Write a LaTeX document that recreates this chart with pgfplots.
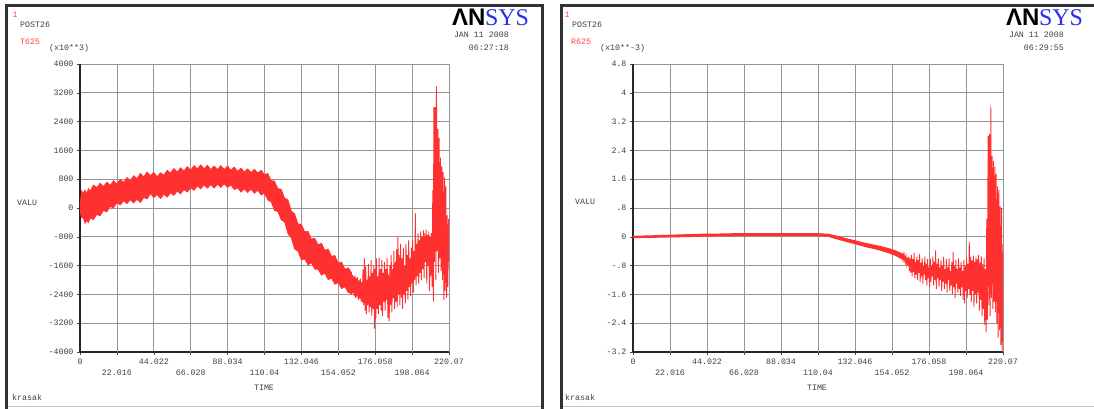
\documentclass[border=0pt]{standalone}
\usepackage{fontspec}
\setmainfont{Liberation Sans}
\setmonofont{Liberation Mono}
\newfontfamily\logoserif{Liberation Serif}
\usepackage{pgfplots}
\pgfplotsset{compat=1.18}

\definecolor{plotred}{RGB}{255,48,48}
\definecolor{txtred}{RGB}{255,70,70}
\definecolor{logoblue}{RGB}{45,45,235}
\definecolor{framegray}{RGB}{50,50,50}
\definecolor{gridgray}{RGB}{150,150,150}
\definecolor{labelgray}{RGB}{65,65,65}

\newcommand\af{\ttfamily\fontsize{8.3}{9}\selectfont}

\pgfplotsset{
  ansys/.style={
    scale only axis, height=288pt, anchor=south west,
    axis x line*=bottom, axis y line*=left,
    axis line style={line width=1.6pt, color=black!85},
    grid=major, major grid style={gridgray, line width=0.8pt},
    tick align=outside, major tick length=3pt,
    tick style={black!70, line width=0.6pt},
    xmin=0, xmax=220.07,
    xtick={0,44.022,88.034,132.046,176.058,220.07},
    xticklabels={0,44.022,88.034,132.046,176.058,220.07},
    extra x ticks={22.016,66.028,110.04,154.052,198.064},
    extra x tick labels={22.016,66.028,110.04,154.052,198.064},
    extra x tick style={grid=major, xticklabel style={yshift=-11pt}},
    ticklabel style={font=\af, text=labelgray},
    clip=true,
  }
}

\begin{document}
\begin{tikzpicture}[x=1pt,y=1pt]
\useasboundingbox (0,0) rectangle (1094,408);
\clip (0,0) rectangle (1094,408);
\fill[white] (0,0) rectangle (1094,408);

% window frames
\draw[framegray, line width=3pt] (6.5,-6) rectangle (542.5,402);
\draw[framegray, line width=3pt] (561.5,-6) rectangle (1102,402);
\draw[gray!45, line width=1pt] (8,1.5) -- (541,1.5);
\draw[gray!45, line width=1pt] (563,1.5) -- (1094,1.5);

% ---------------- T625 ----------------
\begin{axis}[ansys, at={(80pt,56pt)}, width=369pt,
  ymin=-4000, ymax=4000,
  ytick={-4000,-3200,-2400,-1600,-800,0,800,1600,2400,3200,4000},
  yticklabels={-4000,-3200,-2400,-1600,-800,0,800,1600,2400,3200,4000}]
% dense oscillation band: upper edge forward, lower edge back
\addplot[draw=plotred, fill=plotred, line width=0.6pt] coordinates {
(0,100) (1,480) (2,410) (3,500) (4,400) (5,540) (6,470) (8,640) (10,570)
(12,690) (14,600) (16,720) (18,630) (20,760) (22,670) (24,800) (26,710)
(28,850) (30,760) (32,900) (34,820) (36,960) (38,870) (40,1000) (42,900)
(44,990) (46,870) (48,980) (50,910) (52,1050) (54,970) (56,1100) (58,1000)
(60,1120) (62,1030) (64,1150) (66,1050) (68,1180) (70,1090) (72,1200)
(74,1090) (76,1190) (78,1070) (80,1170) (82,1070) (84,1180) (86,1070)
(88,1170) (90,1050) (92,1140) (94,1020) (96,1110) (98,1000) (100,1090)
(102,990) (104,1080) (106,970) (108,1050) (110,930) (112,960) (114,760)
(116,750) (118,540) (120,520) (122,280) (124,230) (126,-80) (128,-160)
(130,-440) (132,-450) (134,-660) (136,-650) (138,-860) (140,-840)
(142,-1020) (144,-980) (146,-1170) (148,-1140) (150,-1340) (152,-1320)
(154,-1530) (156,-1500) (158,-1700) (160,-1660) (162,-1800)
(162,-2380) (160,-2350) (158,-2190) (156,-2240) (154,-2070) (152,-2120)
(150,-1950) (148,-1990) (146,-1810) (144,-1870) (142,-1700) (140,-1700)
(138,-1520) (136,-1580) (134,-1420) (132,-1440) (130,-1200) (128,-1140)
(126,-830) (124,-710) (122,-390) (120,-330) (118,-100) (116,-70) (114,170)
(112,220) (110,410) (108,360) (106,490) (104,410) (102,520) (100,430)
(98,530) (96,440) (94,560) (92,510) (90,640) (88,570) (86,670) (84,570)
(82,660) (80,550) (78,650) (76,550) (74,640) (72,530) (70,610) (68,490)
(66,560) (64,440) (62,510) (60,390) (58,470) (56,350) (54,420) (52,300)
(50,380) (48,260) (46,370) (44,290) (42,400) (40,250) (38,290) (36,150)
(34,240) (32,140) (30,230) (28,120) (26,200) (24,80) (22,150) (20,0)
(18,40) (16,-110) (14,-70) (12,-220) (10,-180) (8,-320) (6,-280) (5,-410)
(4,-340) (3,-430) (2,-280) (1,-270) (0,-100)
};
% irregular response near the end of the run
\addplot[draw=plotred, line width=0.9pt] coordinates {
(160.0,-1750) (160.4,-2300) (160.8,-1820) (161.2,-2350) (161.6,-1780)
(162.0,-2400) (162.4,-1850) (162.8,-2380) (163.2,-1900) (163.6,-2450)
(164.0,-1870) (164.4,-2500) (164.8,-1950) (165.2,-2480) (165.6,-1920)
(166.0,-2550) (166.4,-2000) (166.8,-2520) (167.2,-1960) (167.6,-2600)
(168.0,-2050) (168.4,-2620) (168.8,-1700) (169.2,-2700) (169.6,-1400)
(170.0,-2850) (170.4,-1600) (170.8,-2950) (171.2,-2000) (171.6,-2700)
(172.0,-1550) (172.4,-2900) (172.8,-1900) (173.2,-2750) (173.6,-1450)
(174.0,-3000) (174.4,-1800) (174.8,-2800) (175.2,-1600) (175.6,-3350)
(176.0,-1700) (176.4,-3100) (176.8,-1400) (177.2,-2800) (177.6,-1900)
(178.0,-2950) (178.4,-1380) (178.8,-2700) (179.2,-1700) (179.6,-2850)
(180.0,-1450) (180.4,-3000) (180.8,-1800) (181.2,-2600) (181.6,-1500)
(182.0,-2850) (182.4,-1700) (182.8,-2550) (183.2,-1400) (183.6,-3050)
(184.0,-1850) (184.4,-3150) (184.8,-1600) (185.2,-2700) (185.6,-1300)
(186.0,-2900) (186.4,-1700) (186.8,-2500) (187.2,-1200) (187.6,-2800)
(188.0,-1500) (188.4,-2600) (188.8,-1150) (189.2,-2750) (189.6,-800)
(190.0,-2400) (190.4,-1300) (190.8,-2700) (191.2,-1000) (191.6,-2500)
(192.0,-1400) (192.4,-2800) (192.8,-1100) (193.2,-2400) (193.6,-1600)
(194.0,-2650) (194.4,-1000) (194.8,-2300) (195.2,-1300) (195.6,-2550)
(196.0,-900) (196.4,-2200) (196.8,-1400) (197.2,-2450) (197.6,-1100)
(198.0,-2100) (198.4,-900) (198.8,-2350) (199.2,-1200) (199.6,-2000)
(200.0,-150) (200.4,-2150) (200.8,-1000) (201.2,-1900) (201.6,-700)
(202.0,-2100) (202.4,-900) (202.8,-1800) (203.2,-650) (203.6,-2000)
(204.0,-800) (204.4,-1700) (204.8,-620) (205.2,-1950) (205.6,-700)
(206.0,-1500) (206.4,-600) (206.8,-2100) (207.2,-750) (207.6,-1600)
(208.0,-650) (208.4,-2300) (208.8,-800) (209.2,-1900) (209.6,-700)
(210.0,-2200) (210.4,500) (210.8,-2600) (211.0,2800) (211.4,-1500)
(211.8,2800) (212.2,-2000) (212.6,3380) (213.0,-1200) (213.4,2200)
(213.8,-1800) (214.2,1950) (214.6,-1400) (215.0,1400) (215.4,-1750)
(215.8,1150) (216.2,-2000) (216.6,1000) (217.0,-2550) (217.4,850)
(217.8,-2300) (218.2,600) (218.6,-2500) (219.0,-200) (219.4,-2200)
(219.8,-300) (220.07,-1500)
};
\end{axis}

% ---------------- R625 ----------------
\begin{axis}[ansys, at={(633pt,56pt)}, width=370pt,
  ymin=-3.2, ymax=4.8,
  ytick={-3.2,-2.4,-1.6,-0.8,0,0.8,1.6,2.4,3.2,4,4.8},
  yticklabels={-3.2,-2.4,-1.6,-.8,0,.8,1.6,2.4,3.2,4,4.8}]
\addplot[draw=plotred, fill=plotred, line width=1.1pt] coordinates {
(0,0.015) (10,0.025) (20,0.04) (30,0.055) (40,0.07) (50,0.075) (60,0.085)
(70,0.09) (80,0.09) (90,0.09) (100,0.09) (110,0.085) (116,0.07)
(120,0.03) (124,-0.02) (128,-0.07) (132,-0.11) (136,-0.16) (140,-0.20)
(144,-0.24) (148,-0.28) (152,-0.33) (156,-0.39) (160,-0.47)
(160,-0.61) (156,-0.51) (152,-0.44) (148,-0.38) (144,-0.33) (140,-0.29)
(136,-0.24) (132,-0.19) (128,-0.14) (124,-0.09) (120,-0.04) (116,0.02)
(110,0.03) (100,0.035) (90,0.035) (80,0.035) (70,0.035) (60,0.03) (50,0.025)
(40,0.015) (30,0.005) (20,-0.005) (10,-0.015) (0,-0.02)
};
\addplot[draw=plotred, line width=0.9pt] coordinates {
(160.0,-0.46) (160.4,-0.62) (160.8,-0.50) (161.2,-0.66) (161.6,-0.52)
(162.0,-0.70) (162.4,-0.55) (162.8,-0.75) (163.2,-0.58) (163.6,-0.82)
(164.0,-0.55) (164.4,-0.95) (164.8,-0.60) (165.2,-1.00) (165.6,-0.50)
(166.0,-1.10) (166.4,-0.62) (166.8,-0.98) (167.2,-0.45) (167.6,-1.15)
(168.0,-0.70) (168.4,-1.05) (168.8,-0.55) (169.2,-1.20) (169.6,-0.65)
(170.0,-1.00) (170.4,-0.48) (170.8,-1.25) (171.2,-0.72) (171.6,-1.10)
(172.0,-0.60) (172.4,-1.30) (172.8,-0.80) (173.2,-1.05) (173.6,-0.55)
(174.0,-1.20) (174.4,-0.75) (174.8,-1.35) (175.2,-0.62) (175.6,-1.15)
(176.0,-0.85) (176.4,-1.40) (176.8,-0.60) (177.2,-1.25) (177.6,-0.80)
(178.0,-1.10) (178.4,-0.55) (178.8,-1.35) (179.2,-0.70) (179.6,-1.20)
(180.0,-0.38) (180.4,-1.45) (180.8,-0.75) (181.2,-1.15) (181.6,-0.60)
(182.0,-1.40) (182.4,-0.85) (182.8,-1.20) (183.2,-0.65) (183.6,-1.50)
(184.0,-0.80) (184.4,-1.25) (184.8,-0.55) (185.2,-1.45) (185.6,-0.90)
(186.0,-1.30) (186.4,-0.62) (186.8,-1.55) (187.2,-0.85) (187.6,-1.20)
(188.0,-0.60) (188.4,-1.50) (188.8,-0.95) (189.2,-1.35) (189.6,-0.70)
(190.0,-1.60) (190.4,-0.42) (190.8,-1.40) (191.2,-0.80) (191.6,-1.70)
(192.0,-0.65) (192.4,-1.30) (192.8,-0.90) (193.2,-1.55) (193.6,-0.60)
(194.0,-1.45) (194.4,-0.85) (194.8,-1.65) (195.2,-0.70) (195.6,-1.40)
(196.0,-0.95) (196.4,-1.75) (196.8,-0.65) (197.2,-1.85) (197.6,-0.80)
(198.0,-1.50) (198.4,-0.60) (198.8,-1.70) (199.2,-0.75) (199.6,-1.45)
(200.0,-0.14) (200.4,-1.60) (200.8,-0.55) (201.2,-1.80) (201.6,-0.65)
(202.0,-1.50) (202.4,-0.52) (202.8,-1.95) (203.2,-0.70) (203.6,-1.60)
(204.0,-0.55) (204.4,-1.85) (204.8,-0.62) (205.2,-1.55) (205.6,-0.50)
(206.0,-2.05) (206.4,-0.70) (206.8,-1.75) (207.2,-0.55) (207.6,-2.20)
(208.0,-0.75) (208.4,-2.00) (208.8,-0.60) (209.2,-2.45) (209.6,-0.90)
(210.0,-2.65) (210.4,0.50) (210.8,-2.30) (211.2,2.80) (211.6,-1.90)
(212.0,2.85) (212.4,-2.20) (212.8,3.62) (213.2,-1.70) (213.6,2.25)
(214.0,-2.00) (214.4,2.10) (214.8,-1.80) (215.2,1.95) (215.6,-2.10)
(216.0,1.75) (216.4,-2.40) (216.8,1.40) (217.2,-2.80) (217.6,1.30)
(218.0,-2.60) (218.4,0.85) (218.8,-3.00) (219.2,0.80) (219.6,-3.20)
(220.07,-0.20)
};
\end{axis}

% ---------------- annotations ----------------
\begin{scope}[every node/.style={inner sep=0pt, font=\af, text=labelgray}]
  % left window
  \node[anchor=center, text=txtred] at (15,393.5) {1};
  \node[anchor=west] at (20,383) {POST26};
  \node[anchor=west, text=txtred] at (20,366.3) {T625};
  \node[anchor=west] at (49,359.7) {(x10**3)};
  \node[anchor=east] at (509,373) {JAN 11 2008};
  \node[anchor=east] at (509,360) {06:27:18};
  \node[anchor=west] at (17,205) {VALU};
  \node[anchor=center] at (264,20) {TIME};
  \node[anchor=west] at (12,10) {krasak};
  \node[anchor=west, text=black] at (452,391)
    {\fontsize{24}{24}\selectfont\rmfamily\bfseries ΛN\kern-0.5pt{\logoserif\mdseries\color{logoblue}SYS}};
  % right window
  \node[anchor=center, text=txtred] at (567,393.5) {1};
  \node[anchor=west] at (572,383) {POST26};
  \node[anchor=west, text=txtred] at (571,366.3) {R625};
  \node[anchor=west] at (600,359.7) {(x10**-3)};
  \node[anchor=east] at (1064,373) {JAN 11 2008};
  \node[anchor=east] at (1064,360) {06:29:55};
  \node[anchor=west] at (575,206) {VALU};
  \node[anchor=center] at (817,20) {TIME};
  \node[anchor=west] at (565,10) {krasak};
  \node[anchor=west, text=black] at (1006,391)
    {\fontsize{24}{24}\selectfont\rmfamily\bfseries ΛN\kern-0.5pt{\logoserif\mdseries\color{logoblue}SYS}};
\end{scope}
\end{tikzpicture}
\end{document}
